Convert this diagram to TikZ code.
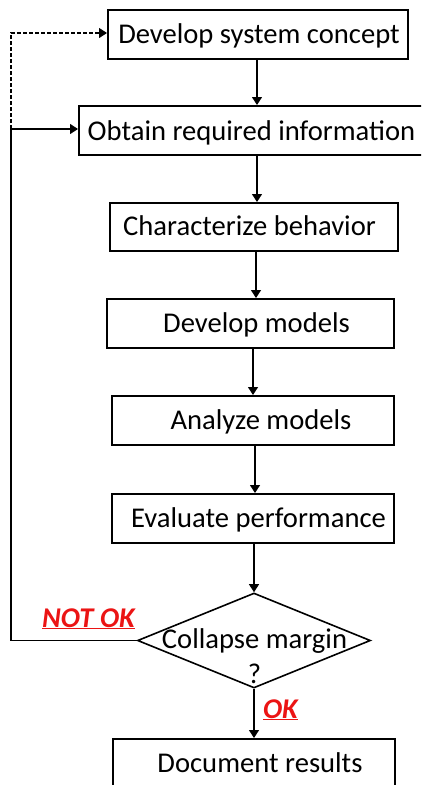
\documentclass[tikz,border=0pt]{standalone}
\usepackage{fontspec}
\setmainfont{Carlito}
\usetikzlibrary{arrows.meta,shapes.geometric}
\begin{document}
\begin{tikzpicture}[x=1pt,y=-1pt,
  box/.style={draw,line width=1.6pt,minimum height=49pt,inner sep=0pt,anchor=north west},
  lbl/.style={anchor=base,font=\fontsize{28.6}{32}\selectfont,inner sep=0pt},
  arr/.style={line width=1.2pt,-{Triangle[width=10pt,length=8pt]}},
  red/.style={anchor=base,inner sep=0pt,text=redc,font=\fontsize{28.6}{32}\selectfont\bfseries\itshape}]
\definecolor{redc}{RGB}{235,20,20}
\useasboundingbox (0,0) rectangle (421,785);
\clip (0,0) rectangle (421,785);
% boxes
\node[box,minimum width=300pt] (b1) at (107,9) {};
\node[box,minimum width=360pt] (b2) at (78,105) {};
\node[box,minimum width=288pt,minimum height=48pt] (b3) at (109,202) {};
\node[box,minimum width=287pt] (b4) at (106,298) {};
\node[box,minimum width=282pt] (b5) at (111,395) {};
\node[box,minimum width=282pt] (b6) at (111,493) {};
\node[draw,line width=1.6pt,shape=diamond,minimum width=233pt,minimum height=95pt,inner sep=0pt] (d) at (254,640.5) {};
\node[box,minimum width=282pt,minimum height=80pt] (b7) at (112,738) {};
% texts
\node[lbl] (t1) at (259,43.3) {Develop system concept};
\node[lbl] (t2) at (251.5,140) {Obtain required information};
\node[lbl] (t3) at (249.5,235) {Characterize behavior};
\node[lbl] (t4) at (256.5,332) {Develop models};
\node[lbl] (t5) at (261,429) {Analyze models};
\node[lbl] (t6) at (258.5,527) {Evaluate performance};
\node[lbl] (t7a) at (254.5,648) {Collapse margin};
\node[lbl] (t7b) at (254.5,683) {?};
\node[lbl] (t8) at (260,772) {Document results};
\node[red] (ok) at (280.5,718) {\underline{OK}};
\node[red] (nok) at (88.5,627) {\underline{NOT OK}};
% arrows
\draw[arr] (b1.south -| 257,0) -- (b2.north -| 257,0);
\draw[arr] (b2.south -| 257,0) -- (b3.north -| 257,0);
\draw[arr] (b3.south -| 256,0) -- (b4.north -| 256,0);
\draw[arr] (b4.south -| 253,0) -- (b5.north -| 253,0);
\draw[arr] (b5.south -| 255,0) -- (b6.north -| 255,0);
\draw[arr] (b6.south -| 254,0) -- (d.north);
\draw[arr] (d.south) -- (b7.north -| 254,0);
\coordinate (c1) at (11,129);
\coordinate (c2) at (11,33);
\draw[line width=1.2pt] (d.west) -- (d.west -| c1) -- (c1);
\draw[arr] (c1) -- (c1 -| b2.west);
\draw[arr,dashed,dash pattern=on 4pt off 2pt,line width=1.1pt] (c1) -- (c2) -- (c2 -| b1.west);
\end{tikzpicture}
\end{document}
